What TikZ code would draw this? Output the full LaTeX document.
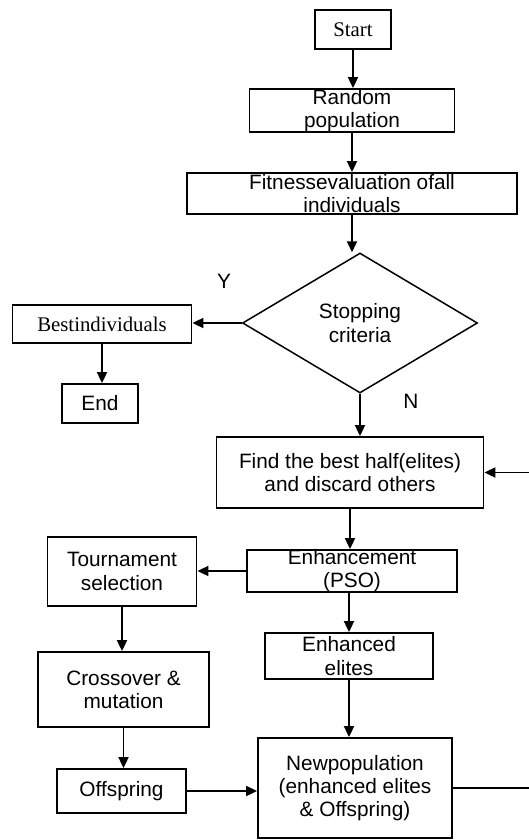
\documentclass[tikz,border=0pt]{standalone}
\usepackage{fontspec}
\setmainfont{Liberation Sans}
\newfontfamily\serifface{Liberation Serif}
\usetikzlibrary{shapes.geometric,arrows.meta}

\begin{document}
\begin{tikzpicture}[x=0.5pt,y=-0.5pt,
  blk/.style={draw, line width=0.9pt, inner sep=0pt},
  dec/.style={draw, diamond, line width=0.75pt, inner sep=0pt,
    minimum width=117.5pt, minimum height=70pt},
  lbl/.style={align=center, inner sep=0pt, font=\fontsize{10.4}{11.6}\selectfont},
  slbl/.style={lbl, font=\fontsize{10.4}{11.6}\selectfont\serifface},
  arr/.style={line width=0.9pt, -{Triangle[length=5.5pt,width=5pt]}},
  link/.style={line width=0.9pt}]

\useasboundingbox (0,0) rectangle (529,840);

% boxes (sizes in pt)
\node[blk, minimum width=38pt,    minimum height=19.5pt] (start)  at (353,29.5) {};
\node[blk, minimum width=102.5pt, minimum height=21.5pt] (rand)   at (352,110.5) {};
\node[blk, minimum width=165pt,   minimum height=20.5pt] (fit)    at (352,193.5) {};
\node[dec]                                              (stop)   at (360,323) {};
\node[blk, minimum width=89.5pt,  minimum height=19pt]   (best)   at (102,324) {};
\node[blk, minimum width=38pt,    minimum height=19.5pt] (end)    at (100,403.5) {};
\node[blk, minimum width=133.5pt, minimum height=35.5pt] (find)   at (350,472.5) {};
\node[blk, minimum width=105pt,   minimum height=21pt]   (enh)    at (352,571) {};
\node[blk, minimum width=74.5pt,  minimum height=34.5pt] (tour)   at (122,571.5) {};
\node[blk, minimum width=84pt,    minimum height=23pt]   (elites) at (349,656) {};
\node[blk, minimum width=85.5pt,  minimum height=37.5pt] (cross)  at (123.5,689.5) {};
\node[blk, minimum width=64.5pt,  minimum height=22pt]   (off)    at (121.5,791) {};
\node[blk, minimum width=97pt,    minimum height=50pt]   (newp)   at (355,788) {};

% texts
\node[slbl] (startT)  at (start)  {Start};
\node[lbl]  (randT)   at (rand)   {Random\\population};
\node[lbl]  (fitT)    at (fit)    {Fitnessevaluation ofall\\individuals};
\node[lbl]  (stopT)   at (stop)   {Stopping\\criteria};
\node[slbl] (bestT)   at (best)   {Bestindividuals};
\node[lbl]  (endT)    at (end)    {End};
\node[lbl]  (findT)   at (find)   {Find the best half(elites)\\and discard others};
\node[lbl]  (enhT)    at (enh)    {Enhancement\\(PSO)};
\node[lbl]  (tourT)   at (tour)   {Tournament\\selection};
\node[lbl]  (elitesT) at (elites) {Enhanced\\elites};
\node[lbl]  (crossT)  at (cross)  {Crossover \&\\mutation};
\node[lbl]  (offT)    at (off)    {Offspring};
\node[lbl]  (newpT)   at (newp)   {Newpopulation\\(enhanced elites\\\& Offspring)};

\node[lbl] (yes) at (224,281) {Y};
\node[lbl] (no)  at (411,401) {N};

% loop-back corner, just past the right edge
\coordinate (loopB) at (531,0);

% connectors
\draw[arr] (start.south) -- (start.south |- rand.north);
\draw[arr] (rand.south) -- (rand.south |- fit.north);
\draw[arr] (fit.south) -- (fit.south |- stop.north);
\draw[arr] (stop.west) -- (stop.west -| best.east);
\draw[arr] (best.south) -- (best.south |- end.north);
\draw[arr] (stop.south) -- (stop.south |- find.north);
\draw[arr] (find.south) -- (find.south |- enh.north);
\draw[arr] (enh.west) -- (enh.west -| tour.east);
\draw[arr] (enh.south -| elites.north) -- (elites.north);
\draw[arr] (elites.south) -- (elites.south |- newp.north);
\draw[arr] (tour.south) -- (tour.south |- cross.north);
\draw[arr] (cross.south) -- (cross.south |- off.north);
\draw[arr] (off.east) -- (off.east -| newp.west);
\draw[arr] (newp.east) -- (newp.east -| loopB) -- (loopB |- find.east) -- (find.east);
\end{tikzpicture}
\end{document}
